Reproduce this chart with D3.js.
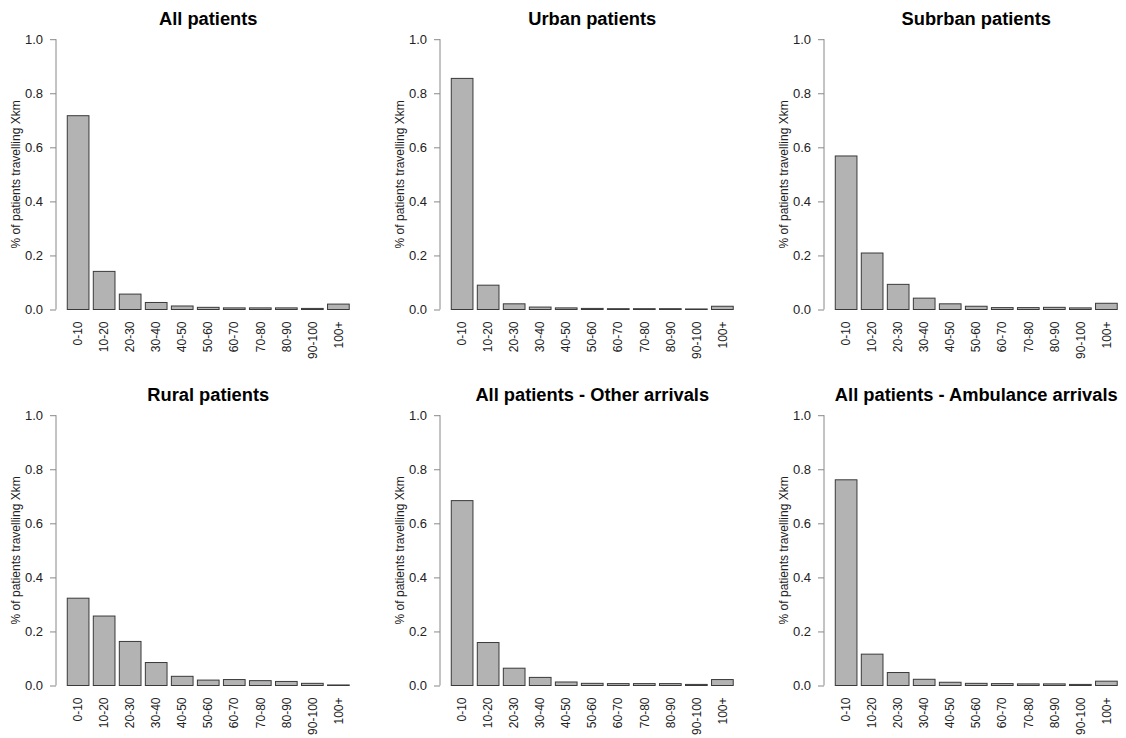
<!DOCTYPE html>
<html>
<head>
<meta charset="utf-8">
<script src="https://cdn.jsdelivr.net/npm/d3@7"></script>
<style>
  html, body { margin: 0; padding: 0; background: #fff; }
  svg { display: block; font-family: "Liberation Sans", Arial, Helvetica, sans-serif; }
</style>
</head>
<body>
<svg id="chart" width="1126" height="738"></svg>
<script>
const categories = ["0-10","10-20","20-30","30-40","40-50","50-60","60-70","70-80","80-90","90-100","100+"];
const titles = ["All patients","Urban patients","Subrban patients","Rural patients","All patients - Other arrivals","All patients - Ambulance arrivals"];
const allPatients = [0.717, 0.141, 0.057, 0.026, 0.013, 0.008, 0.006, 0.006, 0.006, 0.004, 0.020];
const urbanPatients = [0.855, 0.090, 0.021, 0.009, 0.006, 0.004, 0.003, 0.003, 0.003, 0.002, 0.012];
const suburbanPatients = [0.568, 0.209, 0.093, 0.042, 0.021, 0.012, 0.007, 0.007, 0.008, 0.006, 0.023];
const ruralPatients = [0.323, 0.257, 0.163, 0.085, 0.034, 0.020, 0.022, 0.018, 0.015, 0.008, 0.002];
const otherArrivals = [0.684, 0.159, 0.064, 0.030, 0.013, 0.008, 0.007, 0.007, 0.007, 0.004, 0.022];
const ambulanceArrivals = [0.761, 0.116, 0.048, 0.023, 0.012, 0.008, 0.007, 0.006, 0.006, 0.004, 0.016];
const yTicks = [0, 0.2, 0.4, 0.6, 0.8, 1.0];
const yLabel = "% of patients travelling Xkm";

const seriesList = [allPatients, urbanPatients, suburbanPatients, ruralPatients, otherArrivals, ambulanceArrivals];

const svg = d3.select("#chart");

const colStep = 384, rowStep = 376;
const axisX0 = 56, plotW = 304.5;
const yTop0 = 39.2, yBot0 = 309.5;

seriesList.forEach((vals, k) => {
  const col = k % 3, row = Math.floor(k / 3);
  const left = axisX0 + col * colStep;
  const top = yTop0 + row * rowStep;
  const bottom = yBot0 + row * rowStep;

  const x = d3.scaleBand().domain(categories).range([left, left + plotW])
    .paddingInner(1/6).paddingOuter(0.433);
  const y = d3.scaleLinear().domain([0, 1]).range([bottom, top]);

  const g = svg.append("g");

  // bars
  g.selectAll("rect.bar").data(vals).join("rect")
    .attr("class", "bar")
    .attr("x", (d, i) => x(categories[i]))
    .attr("width", x.bandwidth())
    .attr("y", d => y(d))
    .attr("height", d => Math.max(0, y(0) - y(d)))
    .attr("fill", "#b3b3b3")
    .attr("stroke", "#3a3a3a")
    .attr("stroke-width", 1);

  // y axis
  const yAxis = d3.axisLeft(y).tickValues(yTicks).tickFormat(d3.format(".1f")).tickSize(6).tickPadding(7);
  const ya = g.append("g").attr("transform", `translate(${left},0)`).call(yAxis);
  ya.select(".domain").attr("stroke", "#888").attr("d", `M-6,${y(0)}H0V${y(1)}H-6`).attr("d", `M0,${y(0)}V${y(1)}`);
  ya.selectAll(".tick line").attr("stroke", "#888");
  ya.selectAll(".tick text").attr("font-size", 13).attr("fill", "#222")
    .attr("font-family", "'Liberation Sans', Arial, sans-serif");

  // x tick labels (no axis line)
  g.selectAll("text.xl").data(categories).join("text")
    .attr("class", "xl")
    .attr("transform", d => `translate(${x(d) + x.bandwidth() / 2},${bottom + 12}) rotate(-90)`)
    .attr("text-anchor", "end")
    .attr("dy", "0.35em")
    .attr("font-size", 12)
    .attr("fill", "#222")
    .text(d => d);

  // y label
  g.append("text")
    .attr("transform", `translate(${left - 36},${(top + bottom) / 2}) rotate(-90)`)
    .attr("text-anchor", "middle")
    .attr("font-size", 12)
    .attr("fill", "#222")
    .text(yLabel);

  // title
  g.append("text")
    .attr("x", left + plotW / 2)
    .attr("y", 24.7 + row * rowStep)
    .attr("text-anchor", "middle")
    .attr("font-size", 18.3)
    .attr("font-weight", "bold")
    .attr("fill", "#000")
    .text(titles[k]);
});
</script>
</body>
</html>
